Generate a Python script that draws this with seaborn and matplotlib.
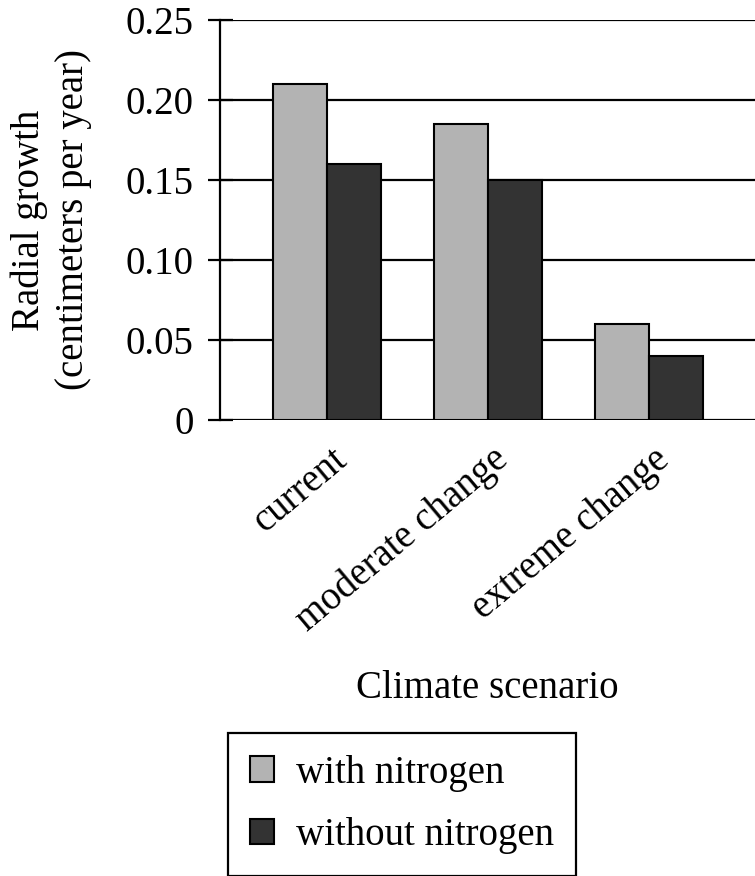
import matplotlib
matplotlib.use("Agg")
import matplotlib.pyplot as plt
import matplotlib.transforms as mtransforms
import seaborn as sns
import pandas as pd

# Data
scenarios = ["current", "moderate change", "extreme change"]
with_nitrogen = [0.21, 0.185, 0.06]
without_nitrogen = [0.16, 0.15, 0.04]
series_names = ["with nitrogen", "without nitrogen"]
ytick_values = [0, 0.05, 0.10, 0.15, 0.20, 0.25]
ytick_labels = ["0", "0.05", "0.10", "0.15", "0.20", "0.25"]

df = pd.DataFrame({
    "Scenario": scenarios * 2,
    "Growth": with_nitrogen + without_nitrogen,
    "Treatment": [series_names[0]] * 3 + [series_names[1]] * 3,
})

sns.set_style("white")
plt.rcParams["font.family"] = ["Liberation Serif", "DejaVu Serif"]
plt.rcParams["text.color"] = "black"
plt.rcParams["axes.labelcolor"] = "black"
plt.rcParams["xtick.color"] = "black"
plt.rcParams["ytick.color"] = "black"

FS = 28

fig = plt.figure(figsize=(7.55, 8.76), dpi=100)
ax = fig.add_axes([220 / 755, 1 - 420 / 876, 1 - 220 / 755, 400 / 876])

sns.barplot(
    data=df, x="Scenario", y="Growth", hue="Treatment",
    palette=["#b3b3b3", "#333333"], width=0.67, gap=0,
    edgecolor="black", linewidth=1.5, ax=ax, legend=True,
    zorder=3,
)

ax.set_xlim(-0.665, 2.66)
ax.set_ylim(0, 0.2502)
ax.set_yticks(ytick_values)
ax.set_yticklabels(ytick_labels, fontsize=FS)
ax.yaxis.grid(True, color="black", linewidth=1.6, zorder=0)
ax.set_axisbelow(True)
for side in ["top", "right", "bottom"]:
    ax.spines[side].set_visible(False)
ax.spines["left"].set_color("black")
ax.spines["left"].set_linewidth(1.6)
ax.tick_params(axis="y", direction="inout", length=18, width=1.6, pad=10,
               left=True)
ax.tick_params(axis="x", length=0, pad=15)

# small nudge to the right for the rotated category labels
shift = mtransforms.ScaledTranslation(4 / 100, 0, fig.dpi_scale_trans)
for lbl in ax.get_xticklabels():
    lbl.set_rotation(40)
    lbl.set_ha("right")
    lbl.set_rotation_mode("anchor")
    lbl.set_fontsize(FS)
    lbl.set_transform(lbl.get_transform() + shift)

ax.set_xlabel("Climate scenario", fontsize=FS, labelpad=22)
ax.set_ylabel("Radial growth\n(centimeters per year)", fontsize=FS,
              labelpad=24, linespacing=1.25)

ax.get_legend().remove()
handles, labels = ax.get_legend_handles_labels()
leg = fig.legend(
    handles, labels, loc="upper left",
    bbox_to_anchor=(228 / 755, 1 - 733 / 876),
    fontsize=FS, frameon=True, fancybox=False, edgecolor="black",
    framealpha=1, handlelength=0.62, handleheight=0.62, handletextpad=0.57,
    borderpad=0.56, labelspacing=0.65, borderaxespad=0,
)
leg.get_frame().set_linewidth(1.6)

fig.savefig("out.png", dpi=100)
